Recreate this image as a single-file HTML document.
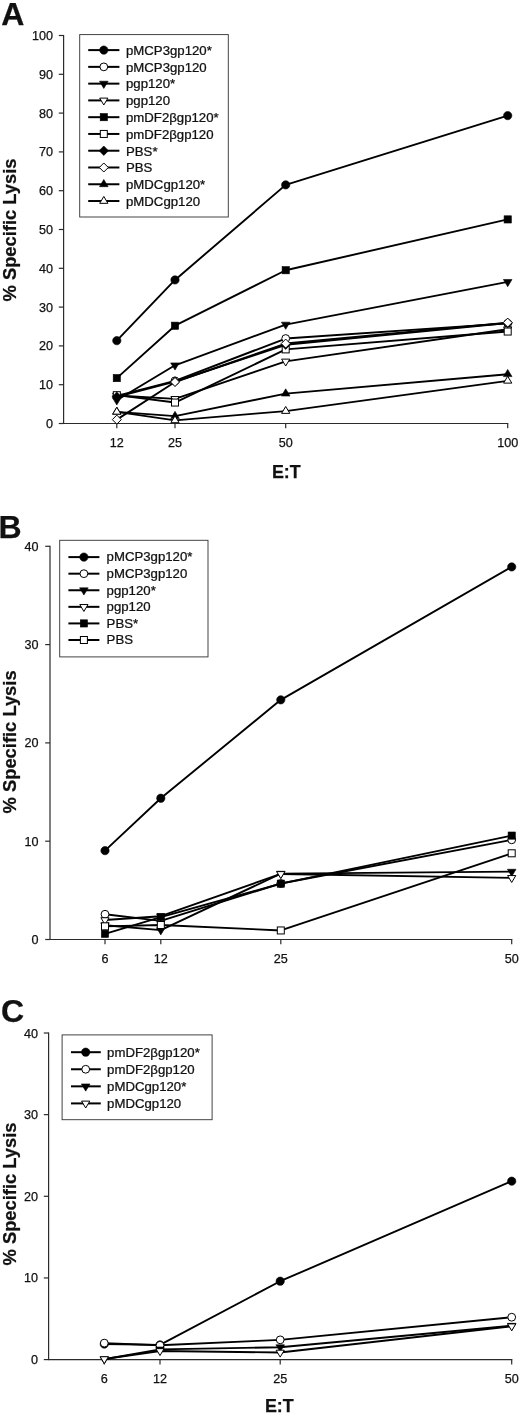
<!DOCTYPE html>
<html>
<head>
<meta charset="utf-8">
<title>Figure: % Specific Lysis vs E:T</title>
<style>
html, body { margin: 0; padding: 0; background: #fff; }
body { width: 520px; height: 1414px; overflow: hidden; font-family: "Liberation Sans", sans-serif; }
svg { display: block; font-family: "Liberation Sans", sans-serif; fill: #111; }
svg text { stroke: #111; stroke-width: 0.25px; stroke-linejoin: round; }
</style>
</head>
<body>
<svg width="520" height="1414" viewBox="0 0 520 1414">
<defs><filter id="soft" x="0" y="0" width="100%" height="100%" filterUnits="objectBoundingBox" color-interpolation-filters="sRGB"><feGaussianBlur stdDeviation="0.35"/></filter></defs>
<g filter="url(#soft)">
<rect x="0" y="0" width="520" height="1414" fill="#fff"/>
<text x="1.2" y="25" font-size="32" text-anchor="start" font-weight="bold">A</text>
<g stroke="#2b2b2b" stroke-width="1.2" fill="none" stroke-linecap="butt"><path d="M63.6 34.9 V423.5 H508.3"/><path d="M58.8 423.5 H63.6"/><path d="M58.8 384.7 H63.6"/><path d="M58.8 345.9 H63.6"/><path d="M58.8 307.1 H63.6"/><path d="M58.8 268.3 H63.6"/><path d="M58.8 229.5 H63.6"/><path d="M58.8 190.7 H63.6"/><path d="M58.8 151.9 H63.6"/><path d="M58.8 113.1 H63.6"/><path d="M58.8 74.3 H63.6"/><path d="M58.8 35.5 H63.6"/><path d="M116.8 423.5 V428.3"/><path d="M175 423.5 V428.3"/><path d="M285.7 423.5 V428.3"/><path d="M507.7 423.5 V428.3"/></g>
<text x="53" y="428" font-size="12.6" text-anchor="end">0</text>
<text x="53" y="389.2" font-size="12.6" text-anchor="end">10</text>
<text x="53" y="350.4" font-size="12.6" text-anchor="end">20</text>
<text x="53" y="311.6" font-size="12.6" text-anchor="end">30</text>
<text x="53" y="272.8" font-size="12.6" text-anchor="end">40</text>
<text x="53" y="234" font-size="12.6" text-anchor="end">50</text>
<text x="53" y="195.2" font-size="12.6" text-anchor="end">60</text>
<text x="53" y="156.4" font-size="12.6" text-anchor="end">70</text>
<text x="53" y="117.6" font-size="12.6" text-anchor="end">80</text>
<text x="53" y="78.8" font-size="12.6" text-anchor="end">90</text>
<text x="53" y="40" font-size="12.6" text-anchor="end">100</text>
<text x="116.8" y="446.6" font-size="12.6" text-anchor="middle">12</text>
<text x="175" y="446.6" font-size="12.6" text-anchor="middle">25</text>
<text x="285.7" y="446.6" font-size="12.6" text-anchor="middle">50</text>
<text x="507.7" y="446.6" font-size="12.6" text-anchor="middle">100</text>
<text transform="translate(15.8 230) rotate(-90) scale(1.025 1)" font-size="17.9" font-weight="bold" text-anchor="middle">% Specific Lysis</text>
<text x="286.3" y="477.8" font-size="17.9" text-anchor="middle" font-weight="bold">E:T</text>
<polyline points="116.8,340.66 175,279.94 285.7,184.88 507.7,115.62" fill="none" stroke="#000" stroke-width="1.9" stroke-linejoin="round"/>
<circle cx="116.8" cy="340.66" r="4.15" fill="#000" stroke="#000" stroke-width="0.6" stroke-linejoin="miter"/>
<circle cx="175" cy="279.94" r="4.15" fill="#000" stroke="#000" stroke-width="0.6" stroke-linejoin="miter"/>
<circle cx="285.7" cy="184.88" r="4.15" fill="#000" stroke="#000" stroke-width="0.6" stroke-linejoin="miter"/>
<circle cx="507.7" cy="115.62" r="4.15" fill="#000" stroke="#000" stroke-width="0.6" stroke-linejoin="miter"/>
<polyline points="116.8,395.95 175,380.82 285.7,338.53 507.7,323.4" fill="none" stroke="#000" stroke-width="1.9" stroke-linejoin="round"/>
<circle cx="116.8" cy="395.95" r="3.9" fill="#fff" stroke="#000" stroke-width="1" stroke-linejoin="miter"/>
<circle cx="175" cy="380.82" r="3.9" fill="#fff" stroke="#000" stroke-width="1" stroke-linejoin="miter"/>
<circle cx="285.7" cy="338.53" r="3.9" fill="#fff" stroke="#000" stroke-width="1" stroke-linejoin="miter"/>
<circle cx="507.7" cy="323.4" r="3.9" fill="#fff" stroke="#000" stroke-width="1" stroke-linejoin="miter"/>
<polyline points="116.8,400.22 175,365.3 285.7,324.56 507.7,281.88" fill="none" stroke="#000" stroke-width="1.9" stroke-linejoin="round"/>
<polygon points="112.5,397.82 121.1,397.82 116.8,405.02" fill="#000" stroke="#000" stroke-width="0.6" stroke-linejoin="miter"/>
<polygon points="170.7,362.9 179.3,362.9 175,370.1" fill="#000" stroke="#000" stroke-width="0.6" stroke-linejoin="miter"/>
<polygon points="281.4,322.16 290,322.16 285.7,329.36" fill="#000" stroke="#000" stroke-width="0.6" stroke-linejoin="miter"/>
<polygon points="503.4,279.48 512,279.48 507.7,286.68" fill="#000" stroke="#000" stroke-width="0.6" stroke-linejoin="miter"/>
<polyline points="116.8,395.56 175,398.86 285.7,361.42 507.7,329.22" fill="none" stroke="#000" stroke-width="1.9" stroke-linejoin="round"/>
<polygon points="112.7,393.26 120.9,393.26 116.8,400.16" fill="#fff" stroke="#000" stroke-width="1" stroke-linejoin="miter"/>
<polygon points="170.9,396.56 179.1,396.56 175,403.46" fill="#fff" stroke="#000" stroke-width="1" stroke-linejoin="miter"/>
<polygon points="281.6,359.12 289.8,359.12 285.7,366.02" fill="#fff" stroke="#000" stroke-width="1" stroke-linejoin="miter"/>
<polygon points="503.6,326.92 511.8,326.92 507.7,333.82" fill="#fff" stroke="#000" stroke-width="1" stroke-linejoin="miter"/>
<polyline points="116.8,378.1 175,325.72 285.7,270.24 507.7,219.41" fill="none" stroke="#000" stroke-width="1.9" stroke-linejoin="round"/>
<rect x="113.2" y="374.5" width="7.2" height="7.2" fill="#000" stroke="#000" stroke-width="0.6" stroke-linejoin="miter"/>
<rect x="171.4" y="322.12" width="7.2" height="7.2" fill="#000" stroke="#000" stroke-width="0.6" stroke-linejoin="miter"/>
<rect x="282.1" y="266.64" width="7.2" height="7.2" fill="#000" stroke="#000" stroke-width="0.6" stroke-linejoin="miter"/>
<rect x="504.1" y="215.81" width="7.2" height="7.2" fill="#000" stroke="#000" stroke-width="0.6" stroke-linejoin="miter"/>
<polyline points="116.8,395.18 175,402.55 285.7,349.39 507.7,331.54" fill="none" stroke="#000" stroke-width="1.9" stroke-linejoin="round"/>
<rect x="113.3" y="391.68" width="7" height="7" fill="#fff" stroke="#000" stroke-width="1" stroke-linejoin="miter"/>
<rect x="171.5" y="399.05" width="7" height="7" fill="#fff" stroke="#000" stroke-width="1" stroke-linejoin="miter"/>
<rect x="282.2" y="345.89" width="7" height="7" fill="#fff" stroke="#000" stroke-width="1" stroke-linejoin="miter"/>
<rect x="504.2" y="328.04" width="7" height="7" fill="#fff" stroke="#000" stroke-width="1" stroke-linejoin="miter"/>
<polyline points="116.8,396.73 175,381.6 285.7,344.74 507.7,323.01" fill="none" stroke="#000" stroke-width="1.9" stroke-linejoin="round"/>
<polygon points="116.8,392.03 121.5,396.73 116.8,401.43 112.1,396.73" fill="#000" stroke="#000" stroke-width="0.6" stroke-linejoin="miter"/>
<polygon points="175,376.9 179.7,381.6 175,386.3 170.3,381.6" fill="#000" stroke="#000" stroke-width="0.6" stroke-linejoin="miter"/>
<polygon points="285.7,340.04 290.4,344.74 285.7,349.44 281,344.74" fill="#000" stroke="#000" stroke-width="0.6" stroke-linejoin="miter"/>
<polygon points="507.7,318.31 512.4,323.01 507.7,327.71 503,323.01" fill="#000" stroke="#000" stroke-width="0.6" stroke-linejoin="miter"/>
<polyline points="116.8,419.62 175,381.98 285.7,343.57 507.7,322.62" fill="none" stroke="#000" stroke-width="1.9" stroke-linejoin="round"/>
<polygon points="116.8,415.12 121.3,419.62 116.8,424.12 112.3,419.62" fill="#fff" stroke="#000" stroke-width="1" stroke-linejoin="miter"/>
<polygon points="175,377.48 179.5,381.98 175,386.48 170.5,381.98" fill="#fff" stroke="#000" stroke-width="1" stroke-linejoin="miter"/>
<polygon points="285.7,339.07 290.2,343.57 285.7,348.07 281.2,343.57" fill="#fff" stroke="#000" stroke-width="1" stroke-linejoin="miter"/>
<polygon points="507.7,318.12 512.2,322.62 507.7,327.12 503.2,322.62" fill="#fff" stroke="#000" stroke-width="1" stroke-linejoin="miter"/>
<polyline points="116.8,411.86 175,416.13 285.7,393.62 507.7,374.22" fill="none" stroke="#000" stroke-width="1.9" stroke-linejoin="round"/>
<polygon points="112.5,414.26 121.1,414.26 116.8,407.06" fill="#000" stroke="#000" stroke-width="0.6" stroke-linejoin="miter"/>
<polygon points="170.7,418.53 179.3,418.53 175,411.33" fill="#000" stroke="#000" stroke-width="0.6" stroke-linejoin="miter"/>
<polygon points="281.4,396.02 290,396.02 285.7,388.82" fill="#000" stroke="#000" stroke-width="0.6" stroke-linejoin="miter"/>
<polygon points="503.4,376.62 512,376.62 507.7,369.42" fill="#000" stroke="#000" stroke-width="0.6" stroke-linejoin="miter"/>
<polyline points="116.8,411.86 175,420.4 285.7,411.08 507.7,380.82" fill="none" stroke="#000" stroke-width="1.9" stroke-linejoin="round"/>
<polygon points="112.7,414.16 120.9,414.16 116.8,407.26" fill="#fff" stroke="#000" stroke-width="1" stroke-linejoin="miter"/>
<polygon points="170.9,422.7 179.1,422.7 175,415.8" fill="#fff" stroke="#000" stroke-width="1" stroke-linejoin="miter"/>
<polygon points="281.6,413.38 289.8,413.38 285.7,406.48" fill="#fff" stroke="#000" stroke-width="1" stroke-linejoin="miter"/>
<polygon points="503.6,383.12 511.8,383.12 507.7,376.22" fill="#fff" stroke="#000" stroke-width="1" stroke-linejoin="miter"/>
<rect x="79.7" y="34.6" width="148.6" height="182.4" fill="#fff" stroke="#3a3a3a" stroke-width="0.95"/>
<path d="M88.2 50.1 H119.4" stroke="#000" stroke-width="2" fill="none"/>
<circle cx="103.8" cy="50.1" r="4.15" fill="#000" stroke="#000" stroke-width="0.6" stroke-linejoin="miter"/>
<text transform="translate(126 54.9) scale(1.1000 1)" font-size="12" text-anchor="start">pMCP3gp120*</text>
<path d="M88.2 66.87 H119.4" stroke="#000" stroke-width="2" fill="none"/>
<circle cx="103.8" cy="66.87" r="3.9" fill="#fff" stroke="#000" stroke-width="1" stroke-linejoin="miter"/>
<text transform="translate(126 71.67) scale(1.1000 1)" font-size="12" text-anchor="start">pMCP3gp120</text>
<path d="M88.2 83.64 H119.4" stroke="#000" stroke-width="2" fill="none"/>
<polygon points="99.5,81.24 108.1,81.24 103.8,88.44" fill="#000" stroke="#000" stroke-width="0.6" stroke-linejoin="miter"/>
<text transform="translate(126 88.44) scale(1.1000 1)" font-size="12" text-anchor="start">pgp120*</text>
<path d="M88.2 100.41 H119.4" stroke="#000" stroke-width="2" fill="none"/>
<polygon points="99.7,98.11 107.9,98.11 103.8,105.01" fill="#fff" stroke="#000" stroke-width="1" stroke-linejoin="miter"/>
<text transform="translate(126 105.21) scale(1.1000 1)" font-size="12" text-anchor="start">pgp120</text>
<path d="M88.2 117.18 H119.4" stroke="#000" stroke-width="2" fill="none"/>
<rect x="100.2" y="113.58" width="7.2" height="7.2" fill="#000" stroke="#000" stroke-width="0.6" stroke-linejoin="miter"/>
<text transform="translate(126 121.98) scale(1.1000 1)" font-size="12" text-anchor="start">pmDF2&#946;gp120*</text>
<path d="M88.2 133.95 H119.4" stroke="#000" stroke-width="2" fill="none"/>
<rect x="100.3" y="130.45" width="7" height="7" fill="#fff" stroke="#000" stroke-width="1" stroke-linejoin="miter"/>
<text transform="translate(126 138.75) scale(1.1000 1)" font-size="12" text-anchor="start">pmDF2&#946;gp120</text>
<path d="M88.2 150.72 H119.4" stroke="#000" stroke-width="2" fill="none"/>
<polygon points="103.8,146.02 108.5,150.72 103.8,155.42 99.1,150.72" fill="#000" stroke="#000" stroke-width="0.6" stroke-linejoin="miter"/>
<text transform="translate(126 155.52) scale(1.1000 1)" font-size="12" text-anchor="start">PBS*</text>
<path d="M88.2 167.49 H119.4" stroke="#000" stroke-width="2" fill="none"/>
<polygon points="103.8,162.99 108.3,167.49 103.8,171.99 99.3,167.49" fill="#fff" stroke="#000" stroke-width="1" stroke-linejoin="miter"/>
<text transform="translate(126 172.29) scale(1.1000 1)" font-size="12" text-anchor="start">PBS</text>
<path d="M88.2 184.26 H119.4" stroke="#000" stroke-width="2" fill="none"/>
<polygon points="99.5,186.66 108.1,186.66 103.8,179.46" fill="#000" stroke="#000" stroke-width="0.6" stroke-linejoin="miter"/>
<text transform="translate(126 189.06) scale(1.1000 1)" font-size="12" text-anchor="start">pMDCgp120*</text>
<path d="M88.2 201.03 H119.4" stroke="#000" stroke-width="2" fill="none"/>
<polygon points="99.7,203.33 107.9,203.33 103.8,196.43" fill="#fff" stroke="#000" stroke-width="1" stroke-linejoin="miter"/>
<text transform="translate(126 205.83) scale(1.1000 1)" font-size="12" text-anchor="start">pMDCgp120</text>
<text x="-1.5" y="537.7" font-size="32" text-anchor="start" font-weight="bold">B</text>
<g stroke="#2b2b2b" stroke-width="1.2" fill="none" stroke-linecap="butt"><path d="M50 545.7 V939.5 H512.3"/><path d="M45.2 939.5 H50"/><path d="M45.2 841.2 H50"/><path d="M45.2 742.9 H50"/><path d="M45.2 644.6 H50"/><path d="M45.2 546.3 H50"/><path d="M105 939.5 V944.3"/><path d="M160.8 939.5 V944.3"/><path d="M280.8 939.5 V944.3"/><path d="M511.7 939.5 V944.3"/></g>
<text x="38.6" y="944" font-size="12.6" text-anchor="end">0</text>
<text x="38.6" y="845.7" font-size="12.6" text-anchor="end">10</text>
<text x="38.6" y="747.4" font-size="12.6" text-anchor="end">20</text>
<text x="38.6" y="649.1" font-size="12.6" text-anchor="end">30</text>
<text x="38.6" y="550.8" font-size="12.6" text-anchor="end">40</text>
<text x="105" y="962.6" font-size="12.6" text-anchor="middle">6</text>
<text x="160.8" y="962.6" font-size="12.6" text-anchor="middle">12</text>
<text x="280.8" y="962.6" font-size="12.6" text-anchor="middle">25</text>
<text x="511.7" y="962.6" font-size="12.6" text-anchor="middle">50</text>
<text transform="translate(15.8 741.9) rotate(-90) scale(1.025 1)" font-size="17.9" font-weight="bold" text-anchor="middle">% Specific Lysis</text>
<polyline points="105,850.64 160.8,798.24 280.8,699.84 511.7,566.94" fill="none" stroke="#000" stroke-width="1.9" stroke-linejoin="round"/>
<circle cx="105" cy="850.64" r="4.15" fill="#000" stroke="#000" stroke-width="0.6" stroke-linejoin="miter"/>
<circle cx="160.8" cy="798.24" r="4.15" fill="#000" stroke="#000" stroke-width="0.6" stroke-linejoin="miter"/>
<circle cx="280.8" cy="699.84" r="4.15" fill="#000" stroke="#000" stroke-width="0.6" stroke-linejoin="miter"/>
<circle cx="511.7" cy="566.94" r="4.15" fill="#000" stroke="#000" stroke-width="0.6" stroke-linejoin="miter"/>
<polyline points="105,914.24 160.8,920.82 280.8,883.47 511.7,839.82" fill="none" stroke="#000" stroke-width="1.9" stroke-linejoin="round"/>
<circle cx="105" cy="914.24" r="3.9" fill="#fff" stroke="#000" stroke-width="1" stroke-linejoin="miter"/>
<circle cx="160.8" cy="920.82" r="3.9" fill="#fff" stroke="#000" stroke-width="1" stroke-linejoin="miter"/>
<circle cx="280.8" cy="883.47" r="3.9" fill="#fff" stroke="#000" stroke-width="1" stroke-linejoin="miter"/>
<circle cx="511.7" cy="839.82" r="3.9" fill="#fff" stroke="#000" stroke-width="1" stroke-linejoin="miter"/>
<polyline points="105,925.25 160.8,930.16 280.8,873.64 511.7,871.67" fill="none" stroke="#000" stroke-width="1.9" stroke-linejoin="round"/>
<polygon points="100.7,922.85 109.3,922.85 105,930.05" fill="#000" stroke="#000" stroke-width="0.6" stroke-linejoin="miter"/>
<polygon points="156.5,927.76 165.1,927.76 160.8,934.96" fill="#000" stroke="#000" stroke-width="0.6" stroke-linejoin="miter"/>
<polygon points="276.5,871.24 285.1,871.24 280.8,878.44" fill="#000" stroke="#000" stroke-width="0.6" stroke-linejoin="miter"/>
<polygon points="507.4,869.27 516,869.27 511.7,876.47" fill="#000" stroke="#000" stroke-width="0.6" stroke-linejoin="miter"/>
<polyline points="105,920.04 160.8,916.2 280.8,873.93 511.7,877.87" fill="none" stroke="#000" stroke-width="1.9" stroke-linejoin="round"/>
<polygon points="100.9,917.74 109.1,917.74 105,924.64" fill="#fff" stroke="#000" stroke-width="1" stroke-linejoin="miter"/>
<polygon points="156.7,913.9 164.9,913.9 160.8,920.8" fill="#fff" stroke="#000" stroke-width="1" stroke-linejoin="miter"/>
<polygon points="276.7,871.63 284.9,871.63 280.8,878.53" fill="#fff" stroke="#000" stroke-width="1" stroke-linejoin="miter"/>
<polygon points="507.6,875.57 515.8,875.57 511.7,882.47" fill="#fff" stroke="#000" stroke-width="1" stroke-linejoin="miter"/>
<polyline points="105,933.8 160.8,917.19 280.8,883.67 511.7,835.6" fill="none" stroke="#000" stroke-width="1.9" stroke-linejoin="round"/>
<rect x="101.4" y="930.2" width="7.2" height="7.2" fill="#000" stroke="#000" stroke-width="0.6" stroke-linejoin="miter"/>
<rect x="157.2" y="913.59" width="7.2" height="7.2" fill="#000" stroke="#000" stroke-width="0.6" stroke-linejoin="miter"/>
<rect x="277.2" y="880.07" width="7.2" height="7.2" fill="#000" stroke="#000" stroke-width="0.6" stroke-linejoin="miter"/>
<rect x="508.1" y="832" width="7.2" height="7.2" fill="#000" stroke="#000" stroke-width="0.6" stroke-linejoin="miter"/>
<polyline points="105,926.33 160.8,925 280.8,930.46 511.7,853.29" fill="none" stroke="#000" stroke-width="1.9" stroke-linejoin="round"/>
<rect x="101.5" y="922.83" width="7" height="7" fill="#fff" stroke="#000" stroke-width="1" stroke-linejoin="miter"/>
<rect x="157.3" y="921.5" width="7" height="7" fill="#fff" stroke="#000" stroke-width="1" stroke-linejoin="miter"/>
<rect x="277.3" y="926.96" width="7" height="7" fill="#fff" stroke="#000" stroke-width="1" stroke-linejoin="miter"/>
<rect x="508.2" y="849.79" width="7" height="7" fill="#fff" stroke="#000" stroke-width="1" stroke-linejoin="miter"/>
<rect x="59.7" y="540.3" width="148.3" height="116.6" fill="#fff" stroke="#3a3a3a" stroke-width="0.95"/>
<path d="M68.4 557.1 H99.4" stroke="#000" stroke-width="2" fill="none"/>
<circle cx="83.9" cy="557.1" r="4.15" fill="#000" stroke="#000" stroke-width="0.6" stroke-linejoin="miter"/>
<text transform="translate(106.6 561.4) scale(1.1000 1)" font-size="12" text-anchor="start">pMCP3gp120*</text>
<path d="M68.4 573.68 H99.4" stroke="#000" stroke-width="2" fill="none"/>
<circle cx="83.9" cy="573.68" r="3.9" fill="#fff" stroke="#000" stroke-width="1" stroke-linejoin="miter"/>
<text transform="translate(106.6 577.98) scale(1.1000 1)" font-size="12" text-anchor="start">pMCP3gp120</text>
<path d="M68.4 590.26 H99.4" stroke="#000" stroke-width="2" fill="none"/>
<polygon points="79.6,587.86 88.2,587.86 83.9,595.06" fill="#000" stroke="#000" stroke-width="0.6" stroke-linejoin="miter"/>
<text transform="translate(106.6 594.56) scale(1.1000 1)" font-size="12" text-anchor="start">pgp120*</text>
<path d="M68.4 606.84 H99.4" stroke="#000" stroke-width="2" fill="none"/>
<polygon points="79.8,604.54 88,604.54 83.9,611.44" fill="#fff" stroke="#000" stroke-width="1" stroke-linejoin="miter"/>
<text transform="translate(106.6 611.14) scale(1.1000 1)" font-size="12" text-anchor="start">pgp120</text>
<path d="M68.4 623.42 H99.4" stroke="#000" stroke-width="2" fill="none"/>
<rect x="80.3" y="619.82" width="7.2" height="7.2" fill="#000" stroke="#000" stroke-width="0.6" stroke-linejoin="miter"/>
<text transform="translate(106.6 627.72) scale(1.1000 1)" font-size="12" text-anchor="start">PBS*</text>
<path d="M68.4 640 H99.4" stroke="#000" stroke-width="2" fill="none"/>
<rect x="80.4" y="636.5" width="7" height="7" fill="#fff" stroke="#000" stroke-width="1" stroke-linejoin="miter"/>
<text transform="translate(106.6 644.3) scale(1.1000 1)" font-size="12" text-anchor="start">PBS</text>
<text x="1" y="1022.4" font-size="32" text-anchor="start" font-weight="bold">C</text>
<g stroke="#2b2b2b" stroke-width="1.2" fill="none" stroke-linecap="butt"><path d="M48.6 1032.4 V1359.6 H512.3"/><path d="M43.8 1359.6 H48.6"/><path d="M43.8 1277.95 H48.6"/><path d="M43.8 1196.3 H48.6"/><path d="M43.8 1114.65 H48.6"/><path d="M43.8 1033 H48.6"/><path d="M104.3 1359.6 V1364.4"/><path d="M160 1359.6 V1364.4"/><path d="M280.2 1359.6 V1364.4"/><path d="M511.7 1359.6 V1364.4"/></g>
<text x="37.9" y="1364.1" font-size="12.6" text-anchor="end">0</text>
<text x="37.9" y="1282.45" font-size="12.6" text-anchor="end">10</text>
<text x="37.9" y="1200.8" font-size="12.6" text-anchor="end">20</text>
<text x="37.9" y="1119.15" font-size="12.6" text-anchor="end">30</text>
<text x="37.9" y="1037.5" font-size="12.6" text-anchor="end">40</text>
<text x="104.3" y="1382.7" font-size="12.6" text-anchor="middle">6</text>
<text x="160" y="1382.7" font-size="12.6" text-anchor="middle">12</text>
<text x="280.2" y="1382.7" font-size="12.6" text-anchor="middle">25</text>
<text x="511.7" y="1382.7" font-size="12.6" text-anchor="middle">50</text>
<text transform="translate(15.8 1194) rotate(-90) scale(1.025 1)" font-size="17.9" font-weight="bold" text-anchor="middle">% Specific Lysis</text>
<text x="279.3" y="1411.8" font-size="17.9" text-anchor="middle" font-weight="bold">E:T</text>
<polyline points="104.3,1344.09 160,1344.9 280.2,1281.22 511.7,1181.19" fill="none" stroke="#000" stroke-width="1.9" stroke-linejoin="round"/>
<circle cx="104.3" cy="1344.09" r="4.15" fill="#000" stroke="#000" stroke-width="0.6" stroke-linejoin="miter"/>
<circle cx="160" cy="1344.9" r="4.15" fill="#000" stroke="#000" stroke-width="0.6" stroke-linejoin="miter"/>
<circle cx="280.2" cy="1281.22" r="4.15" fill="#000" stroke="#000" stroke-width="0.6" stroke-linejoin="miter"/>
<circle cx="511.7" cy="1181.19" r="4.15" fill="#000" stroke="#000" stroke-width="0.6" stroke-linejoin="miter"/>
<polyline points="104.3,1343.11 160,1345.31 280.2,1339.84 511.7,1317.22" fill="none" stroke="#000" stroke-width="1.9" stroke-linejoin="round"/>
<circle cx="104.3" cy="1343.11" r="3.9" fill="#fff" stroke="#000" stroke-width="1" stroke-linejoin="miter"/>
<circle cx="160" cy="1345.31" r="3.9" fill="#fff" stroke="#000" stroke-width="1" stroke-linejoin="miter"/>
<circle cx="280.2" cy="1339.84" r="3.9" fill="#fff" stroke="#000" stroke-width="1" stroke-linejoin="miter"/>
<circle cx="511.7" cy="1317.22" r="3.9" fill="#fff" stroke="#000" stroke-width="1" stroke-linejoin="miter"/>
<polyline points="104.3,1359.19 160,1349.39 280.2,1347.19 511.7,1325.72" fill="none" stroke="#000" stroke-width="1.9" stroke-linejoin="round"/>
<polygon points="100,1356.79 108.6,1356.79 104.3,1363.99" fill="#000" stroke="#000" stroke-width="0.6" stroke-linejoin="miter"/>
<polygon points="155.7,1346.99 164.3,1346.99 160,1354.19" fill="#000" stroke="#000" stroke-width="0.6" stroke-linejoin="miter"/>
<polygon points="275.9,1344.79 284.5,1344.79 280.2,1351.99" fill="#000" stroke="#000" stroke-width="0.6" stroke-linejoin="miter"/>
<polygon points="507.4,1323.32 516,1323.32 511.7,1330.52" fill="#000" stroke="#000" stroke-width="0.6" stroke-linejoin="miter"/>
<polyline points="104.3,1359.03 160,1350.95 280.2,1352.5 511.7,1326.21" fill="none" stroke="#000" stroke-width="1.9" stroke-linejoin="round"/>
<polygon points="100.2,1356.73 108.4,1356.73 104.3,1363.63" fill="#fff" stroke="#000" stroke-width="1" stroke-linejoin="miter"/>
<polygon points="155.9,1348.65 164.1,1348.65 160,1355.55" fill="#fff" stroke="#000" stroke-width="1" stroke-linejoin="miter"/>
<polygon points="276.1,1350.2 284.3,1350.2 280.2,1357.1" fill="#fff" stroke="#000" stroke-width="1" stroke-linejoin="miter"/>
<polygon points="507.6,1323.91 515.8,1323.91 511.7,1330.81" fill="#fff" stroke="#000" stroke-width="1" stroke-linejoin="miter"/>
<rect x="62.1" y="1034.9" width="150" height="84.8" fill="#fff" stroke="#3a3a3a" stroke-width="0.95"/>
<path d="M71 1052.2 H100.8" stroke="#000" stroke-width="2" fill="none"/>
<circle cx="85.7" cy="1052.2" r="4.15" fill="#000" stroke="#000" stroke-width="0.6" stroke-linejoin="miter"/>
<text transform="translate(107.1 1057.1) scale(1.1000 1)" font-size="12" text-anchor="start">pmDF2&#946;gp120*</text>
<path d="M71 1069.27 H100.8" stroke="#000" stroke-width="2" fill="none"/>
<circle cx="85.7" cy="1069.27" r="3.9" fill="#fff" stroke="#000" stroke-width="1" stroke-linejoin="miter"/>
<text transform="translate(107.1 1074.17) scale(1.1000 1)" font-size="12" text-anchor="start">pmDF2&#946;gp120</text>
<path d="M71 1086.34 H100.8" stroke="#000" stroke-width="2" fill="none"/>
<polygon points="81.4,1083.94 90,1083.94 85.7,1091.14" fill="#000" stroke="#000" stroke-width="0.6" stroke-linejoin="miter"/>
<text transform="translate(107.1 1091.24) scale(1.1000 1)" font-size="12" text-anchor="start">pMDCgp120*</text>
<path d="M71 1103.41 H100.8" stroke="#000" stroke-width="2" fill="none"/>
<polygon points="81.6,1101.11 89.8,1101.11 85.7,1108.01" fill="#fff" stroke="#000" stroke-width="1" stroke-linejoin="miter"/>
<text transform="translate(107.1 1108.31) scale(1.1000 1)" font-size="12" text-anchor="start">pMDCgp120</text>
</g>
</svg>
</body>
</html>
